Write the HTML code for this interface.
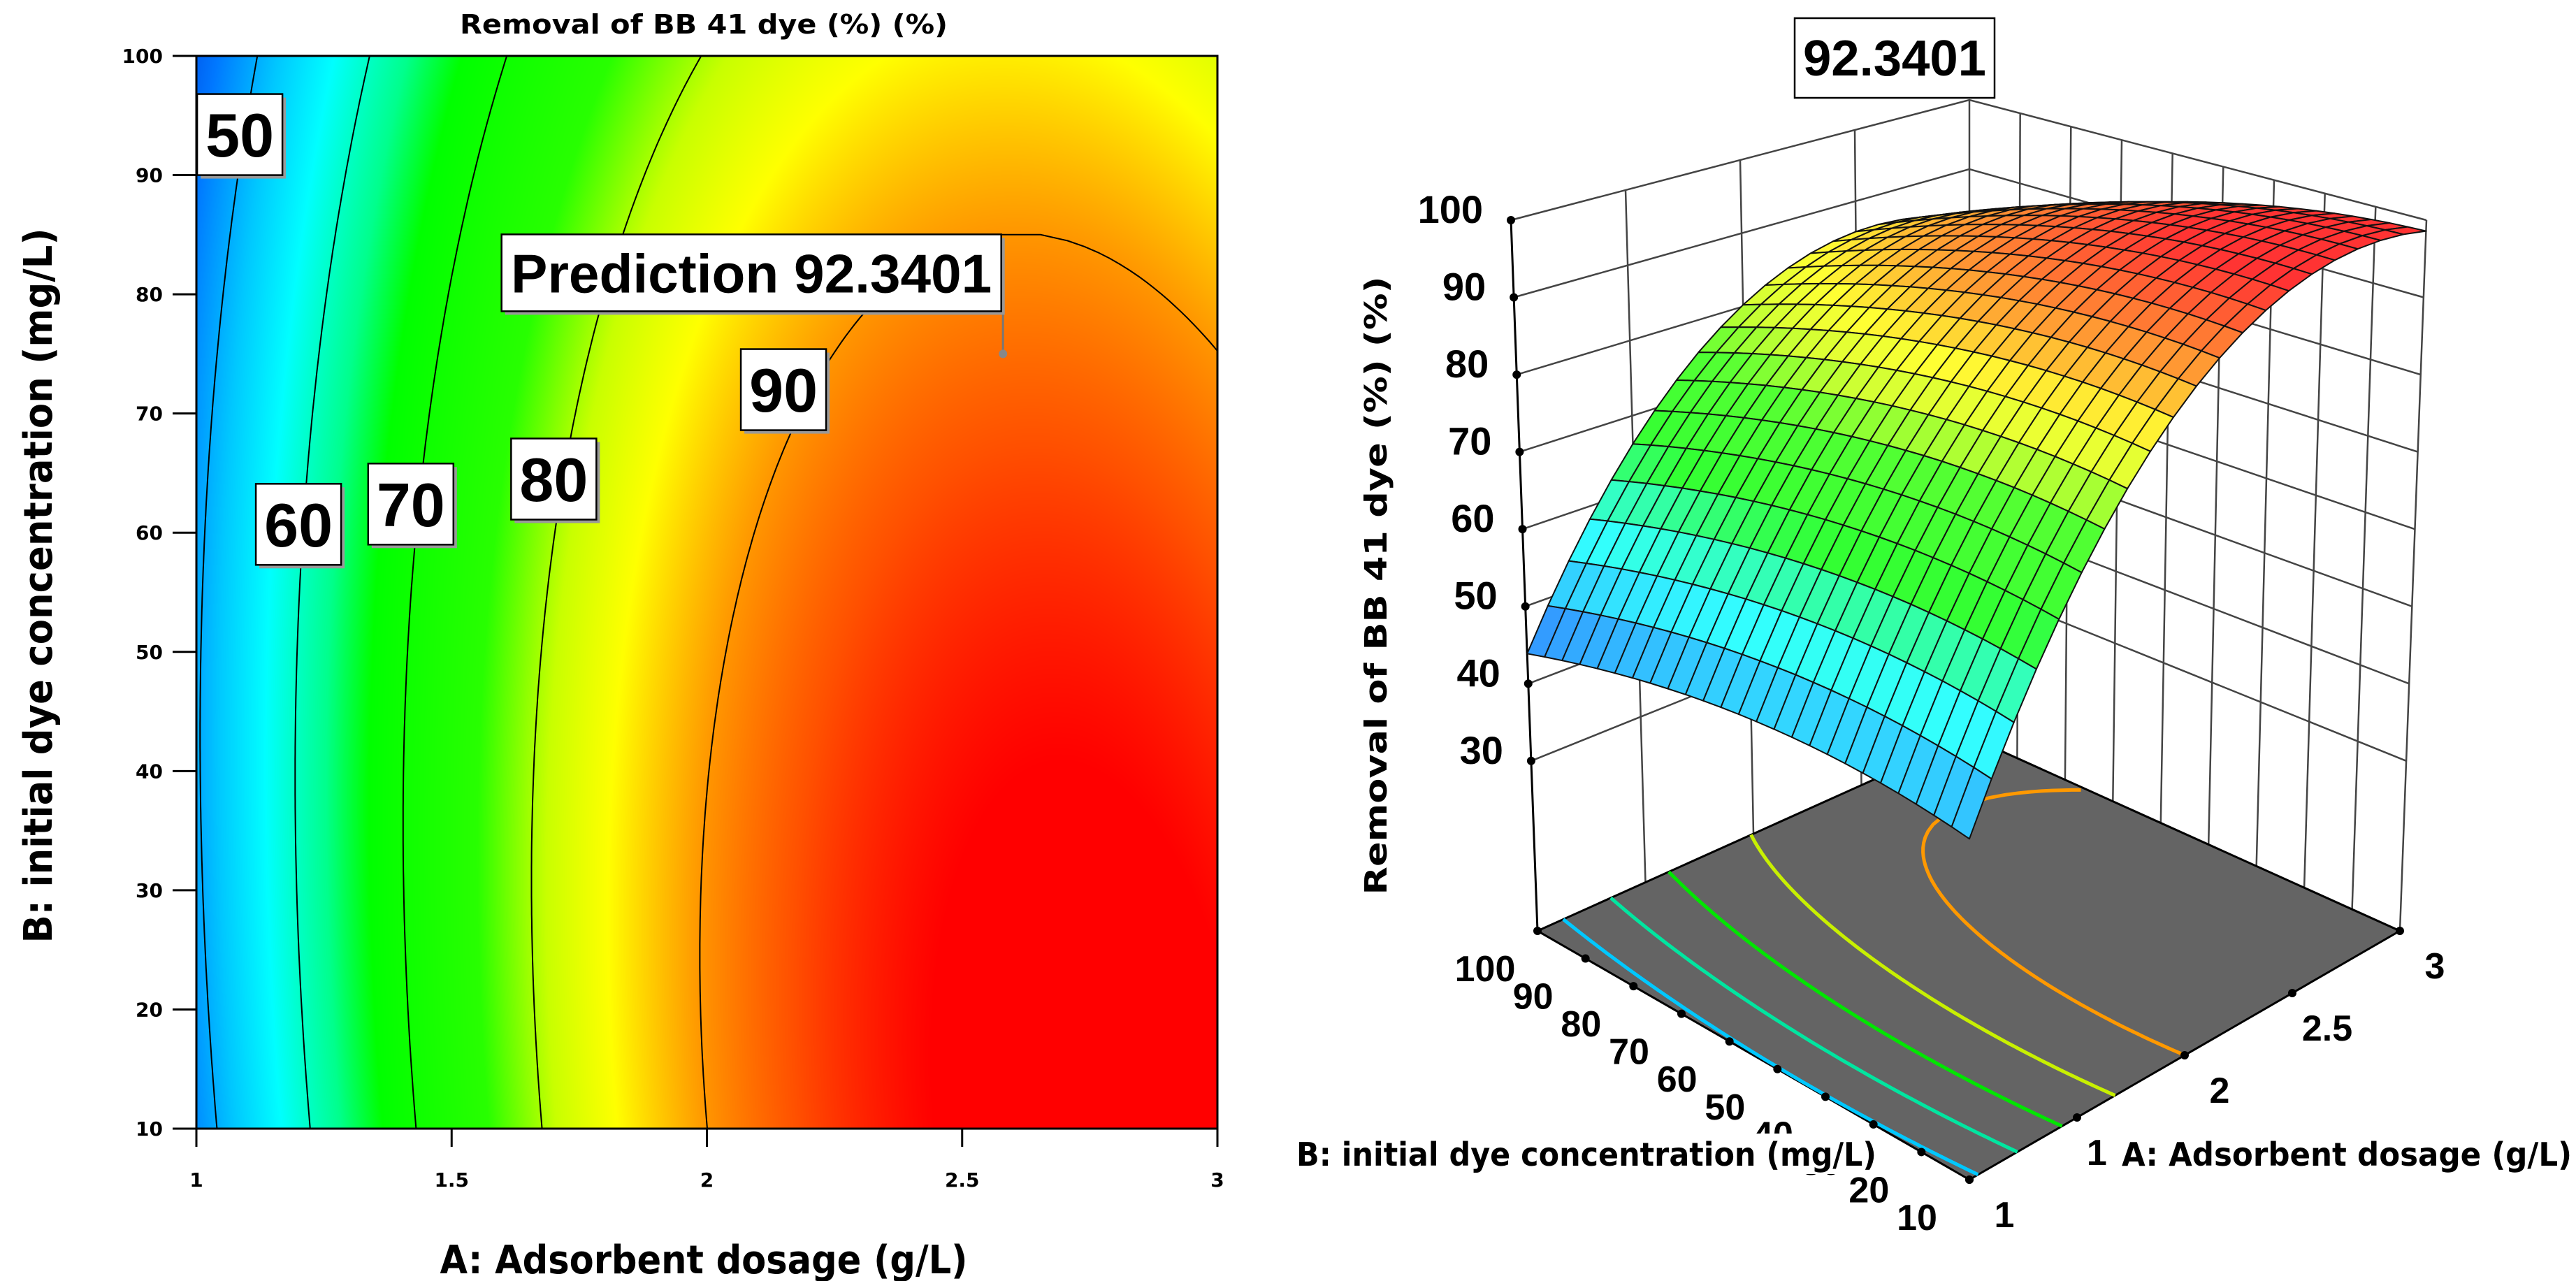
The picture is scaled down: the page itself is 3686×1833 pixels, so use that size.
<!DOCTYPE html>
<html><head><meta charset="utf-8">
<style>
html,body{margin:0;padding:0;background:#fff;}
#wrap{position:relative;width:3686px;height:1833px;overflow:hidden;background:#fff;font-family:"Liberation Sans",Arial,sans-serif;}
#heat{position:absolute;left:281px;top:80px;}
svg{position:absolute;left:0;top:0;}
text{font-family:"Liberation Sans",Arial,sans-serif;font-weight:bold;}
text.ttl{font-family:"DejaVu Sans","Liberation Sans",sans-serif;font-weight:bold;}
</style></head>
<body>
<div id="wrap">
<canvas id="heat" width="1461" height="1535"></canvas>
<svg id="svg" width="3686" height="1833" xmlns="http://www.w3.org/2000/svg"></svg>
</div>
<script>
// ---- data ----
const modelPeak = [99.6, 0.0017];      // max response at B=10, curvature in B
const modelCenter = [2.755, 0.00198];  // optimum dosage at B=10, shift per mg/L
const modelK = [16.87];                // curvature in A
const contourLevels = [50, 60, 70, 80, 90];
const contourLabelPos = [[1.085,93.4],[1.2,60.7],[1.42,62.4],[1.70,64.5],[2.15,72]];
const floorColors = ['#00c8ff','#00e6a0','#00e600','#c8f000','#ff9900'];
const xTicks = [1, 1.5, 2, 2.5, 3];
const yTicks = [10, 20, 30, 40, 50, 60, 70, 80, 90, 100];
const zTicks = [30, 40, 50, 60, 70, 80, 90, 100];
const bTicks3d = [10, 20, 30, 40, 50, 60, 70, 80, 90, 100];
const aTicks3d = [1, 1.5, 2, 2.5, 3];
const predictionPoint = [2.58, 75, 92.3401];
const colorStops = [40,46,52,57,63,67,76,81,85,90,94,98];
const colorRGB = [[0,60,220],[0,120,255],[0,200,255],[0,255,255],[0,255,140],[0,255,0],[40,255,0],[200,255,0],[255,255,0],[255,150,0],[255,80,0],[255,0,0]];

function R(A,B){
  const d=B-10;
  const M=modelPeak[0]-modelPeak[1]*d*d;
  const m=modelCenter[0]-modelCenter[1]*d;
  return M-modelK[0]*(A-m)*(A-m);
}
function cmap(v){
  if(v<=colorStops[0])return colorRGB[0];
  for(let i=1;i<colorStops.length;i++){
    if(v<=colorStops[i]){const t=(v-colorStops[i-1])/(colorStops[i]-colorStops[i-1]);
      const a=colorRGB[i-1],b=colorRGB[i];return [a[0]+(b[0]-a[0])*t,a[1]+(b[1]-a[1])*t,a[2]+(b[2]-a[2])*t];}
  }
  return colorRGB[colorRGB.length-1];
}
function rgb(c){return 'rgb('+Math.round(c[0])+','+Math.round(c[1])+','+Math.round(c[2])+')';}

const NS='http://www.w3.org/2000/svg';
const svg=document.getElementById('svg');
function el(tag,attrs,parent){const e=document.createElementNS(NS,tag);for(const k in attrs)e.setAttribute(k,attrs[k]);(parent||svg).appendChild(e);return e;}

// ---- left contour plot ----
const PX0=281,PX1=1742,PY0=80,PY1=1615;
function xA(A){return PX0+(A-1)/2*(PX1-PX0);}
function yB(B){return PY1-(B-10)/90*(PY1-PY0);}
(function(){
  const cv=document.getElementById('heat');const ctx=cv.getContext('2d');
  const W=cv.width,H=cv.height;const img=ctx.createImageData(W,H);
  for(let j=0;j<H;j++){const B=100-j/(H-1)*90;
    for(let i=0;i<W;i++){const A=1+i/(W-1)*2;const c=cmap(R(A,B));const k=(j*W+i)*4;
      img.data[k]=c[0];img.data[k+1]=c[1];img.data[k+2]=c[2];img.data[k+3]=255;}}
  ctx.putImageData(img,0,0);
})();
const defs=el('defs',{});
const cp=el('clipPath',{id:'plotclip'},defs);
el('rect',{x:PX0,y:PY0,width:PX1-PX0,height:PY1-PY0},cp);
const cg=el('g',{'clip-path':'url(#plotclip)'});


contourLevels.forEach(L=>{
  const left=[],right=[];
  for(let B=10;B<=100.001;B+=0.5){
    const d=B-10;const M=modelPeak[0]-modelPeak[1]*d*d;const m=modelCenter[0]-modelCenter[1]*d;
    const disc=(M-L)/modelK[0];
    if(disc>=0){const s=Math.sqrt(disc);left.push([xA(m-s),yB(B)]);right.unshift([xA(m+s),yB(B)]);}
  }
  const pts=left.concat(right);
  const p=el('polyline',{points:pts.map(p=>p[0].toFixed(1)+','+p[1].toFixed(1)).join(' '),fill:'none',stroke:'#000','stroke-width':2},cg);
  
  
});
const frame=el('rect',{x:PX0,y:PY0,width:PX1-PX0,height:PY1-PY0,fill:'none',stroke:'#000','stroke-width':3});


yTicks.forEach(v=>{
  el('line',{x1:PX0-34,x2:PX0,y1:yB(v),y2:yB(v),stroke:'#000','stroke-width':3});
  const t=el('text',{x:PX0-48,y:yB(v)+10,'text-anchor':'end','font-size':28,'class':'ttl'});t.textContent=v;
  
  
});
xTicks.forEach(v=>{
  el('line',{x1:xA(v),x2:xA(v),y1:PY1,y2:PY1+26,stroke:'#000','stroke-width':3});
  const t=el('text',{x:xA(v),y:1698,'text-anchor':'middle','font-size':28,'class':'ttl'});t.textContent=v;
  
  
});
function labelBox(cx,cy,w,h,txt,fs,name){
  const g=el('g',{});
  
  
  el('rect',{x:cx-w/2+5,y:cy-h/2+5,width:w,height:h,fill:'#999'},g);
  el('rect',{x:cx-w/2,y:cy-h/2,width:w,height:h,fill:'#fff',stroke:'#000','stroke-width':2.5},g);
  const t=el('text',{x:cx,y:cy+fs*0.36,'text-anchor':'middle','font-size':fs,'xml:space':'preserve'},g);t.textContent=txt;
  return t;
}
contourLevels.forEach((L,i)=>{
  labelBox(xA(contourLabelPos[i][0]),yB(contourLabelPos[i][1]),122,116,String(L),88,'contour-label-'+L);
});
const ppx=xA(predictionPoint[0]),ppy=yB(predictionPoint[1]);
const pl=el('line',{x1:ppx,y1:ppy-58,x2:ppx,y2:ppy,stroke:'#777','stroke-width':3});


const pd=el('circle',{cx:ppx,cy:ppy,r:6,fill:'#888'});


const pt=labelBox(ppx-360,ppy-116,715,110,'Prediction  '+predictionPoint[2],78,'prediction-label');
pt.setAttribute('textLength',688);
pt.setAttribute('lengthAdjust','spacingAndGlyphs');
const lt=el('text',{x:1007,y:48,'text-anchor':'middle','font-size':38,'xml:space':'preserve',textLength:698,lengthAdjust:'spacingAndGlyphs','class':'ttl'});
lt.textContent='Removal of BB 41 dye  (%) (%)';


const xt=el('text',{x:1007,y:1822,'text-anchor':'middle','font-size':56,'xml:space':'preserve',textLength:755,lengthAdjust:'spacingAndGlyphs','class':'ttl'});
xt.textContent='A: Adsorbent dosage  (g/L)';


const yt=el('text',{x:0,y:0,'text-anchor':'middle','font-size':56,transform:'translate(74,838) rotate(-90)',textLength:1023,lengthAdjust:'spacingAndGlyphs','class':'ttl'});
yt.textContent='B: initial dye concentration (mg/L)';



// ---- 3D surface ----
const ZF=8,ZT=100;
const F0=[2818,1688],R0=[3434,1332],L0=[2200,1332],K0=[2818,1054];
const Ft=[2818,556],Rt=[3472,315],Lt=[2162,315],Kt=[2818,143];
function bil(a,b,c,d,u,v){
  return [a[0]*(1-u)*(1-v)+b[0]*u*(1-v)+c[0]*(1-u)*v+d[0]*u*v, a[1]*(1-u)*(1-v)+b[1]*u*(1-v)+c[1]*(1-u)*v+d[1]*u*v];
}
function P(A,B,z){
  const u=(A-1)/2,v=(B-10)/90,w=(z-ZF)/(ZT-ZF);
  const f=bil(F0,R0,L0,K0,u,v),t=bil(Ft,Rt,Lt,Kt,u,v);
  return [f[0]+(t[0]-f[0])*w,f[1]+(t[1]-f[1])*w];
}
function ps(arr){return arr.map(p=>p[0].toFixed(1)+','+p[1].toFixed(1)).join(' ');}
const g3=el('g',{});


const wall=el('g',{stroke:'#444','stroke-width':2.5,fill:'none'},g3);


zTicks.forEach(z=>{el('polyline',{points:ps([P(1,100,z),P(3,100,z),P(3,10,z)])},wall);});
[1.5,2,2.5].forEach(a=>{el('polyline',{points:ps([P(a,100,ZF),P(a,100,ZT)])},wall);});
[20,30,40,50,60,70,80,90].forEach(b=>{el('polyline',{points:ps([P(3,b,ZF),P(3,b,ZT)])},wall);});
el('polyline',{points:ps([P(3,100,ZF),P(3,100,ZT)])},wall);
el('polyline',{points:ps([P(3,10,ZF),P(3,10,ZT)])},wall);
const fl=el('polygon',{points:ps([P(1,10,ZF),P(3,10,ZF),P(3,100,ZF),P(1,100,ZF)]),fill:'#646464',stroke:'#000','stroke-width':3},g3);


contourLevels.forEach((L,idx)=>{
  const left=[],right=[];
  for(let B=10;B<=100.001;B+=1){
    const d=B-10;const M=modelPeak[0]-modelPeak[1]*d*d;const m=modelCenter[0]-modelCenter[1]*d;
    const disc=(M-L)/modelK[0];
    if(disc>=0){const s=Math.sqrt(disc);const a1=m-s,a2=m+s;
      if(a1>=1&&a1<=3)left.push(P(a1,B,ZF));
      if(a2>=1&&a2<=3)right.unshift(P(a2,B,ZF));}
  }
  const p=el('polyline',{points:ps(left.concat(right)),fill:'none',stroke:floorColors[idx],'stroke-width':5},g3);
  
  
});
el('line',{x1:P(1,100,ZF)[0],y1:P(1,100,ZF)[1],x2:P(1,100,ZT)[0],y2:P(1,100,ZT)[1],stroke:'#000','stroke-width':3},g3);
zTicks.forEach(z=>{
  const q=P(1,100,z);
  el('circle',{cx:q[0],cy:q[1],r:6,fill:'#000'},g3);
  const t=el('text',{x:q[0]-40,y:q[1]+4,'text-anchor':'end','font-size':56},g3);t.textContent=z;
  
  
});
const NA=20,NB=25;const cells=[];
for(let i=0;i<NA;i++)for(let j=0;j<NB;j++){
  const a0=1+2*i/NA,a1=1+2*(i+1)/NA,b0=10+90*j/NB,b1=10+90*(j+1)/NB;
  cells.push({a0,a1,b0,b1,d:(i+0.5)/NA+(j+0.5)/NB});
}
cells.sort((p,q)=>q.d-p.d);
const sg=el('g',{stroke:'#111','stroke-width':2,'stroke-linejoin':'round'},g3);


cells.forEach(c=>{
  const z00=R(c.a0,c.b0),z10=R(c.a1,c.b0),z11=R(c.a1,c.b1),z01=R(c.a0,c.b1);
  const col=cmap((z00+z10+z11+z01)/4);
  const lc=[col[0]+(255-col[0])*0.2,col[1]+(255-col[1])*0.2,col[2]+(255-col[2])*0.2];
  const q=el('polygon',{points:ps([P(c.a0,c.b0,z00),P(c.a1,c.b0,z10),P(c.a1,c.b1,z11),P(c.a0,c.b1,z01)]),fill:rgb(lc)},sg);
  
  
});
bTicks3d.forEach(b=>{
  const q=P(1,b,ZF);el('circle',{cx:q[0],cy:q[1],r:6,fill:'#000'},g3);
  const t=el('text',{x:q[0]-75,y:q[1]+72,'text-anchor':'middle','font-size':52},g3);t.textContent=b;
  
  
});
aTicks3d.forEach(a=>{
  const q=P(a,10,ZF);el('circle',{cx:q[0],cy:q[1],r:6,fill:'#000'},g3);
  const t=el('text',{x:q[0]+50,y:q[1]+68,'text-anchor':'middle','font-size':52},g3);t.textContent=a;
  
  
});
el('rect',{x:1850,y:1622,width:838,height:58,fill:'#fff'},g3);
const bt=el('text',{x:1855,y:1668,'font-size':46,textLength:830,lengthAdjust:'spacingAndGlyphs','class':'ttl'},g3);
bt.textContent='B: initial dye concentration (mg/L)';


el('rect',{x:3016,y:1622,width:670,height:58,fill:'#fff'},g3);
const at=el('text',{x:3036,y:1668,'font-size':46,'xml:space':'preserve',textLength:644,lengthAdjust:'spacingAndGlyphs','class':'ttl'},g3);
at.textContent='A: Adsorbent dosage  (g/L)';


const zt=el('text',{x:0,y:0,'text-anchor':'middle','font-size':44,'xml:space':'preserve',transform:'translate(1984,838) rotate(-90)',textLength:885,lengthAdjust:'spacingAndGlyphs','class':'ttl'},g3);
zt.textContent='Removal of BB 41 dye  (%) (%)';


const vb=el('g',{},g3);


el('rect',{x:2568,y:26,width:286,height:114,fill:'#fff',stroke:'#000','stroke-width':2.5},vb);
const vt=el('text',{x:2711,y:108,'text-anchor':'middle','font-size':72,textLength:262,lengthAdjust:'spacingAndGlyphs'},vb);
vt.textContent=String(predictionPoint[2]);
</script>
</body></html>
